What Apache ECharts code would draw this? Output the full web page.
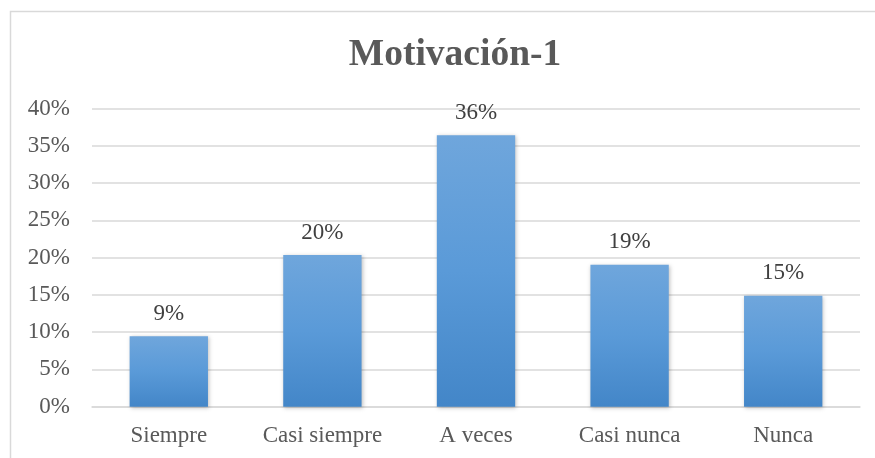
<!DOCTYPE html>
<html>
<head>
<meta charset="utf-8">
<script src="https://cdn.jsdelivr.net/npm/echarts@6/dist/echarts.min.js"></script>
<style>html,body{margin:0;padding:0;background:#fff}#c{width:875px;height:458px}</style>
</head>
<body>
<div id="c"></div>
<script>
const categories = ['Siempre', 'Casi siempre', 'A veces', 'Casi nunca', 'Nunca'];
const values = [9.45, 20.35, 36.45, 19.05, 14.9];
const yTicks = [0, 5, 10, 15, 20, 25, 30, 35, 40];
const titleText = 'Motivación-1';

const font = '"Liberation Serif", "Times New Roman", serif';
const chart = echarts.init(document.getElementById('c'));
chart.setOption({
  backgroundColor: '#fff',
  title: {
    text: titleText, left: 450, top: 31, textAlign: 'center',
    textStyle: { fontFamily: font, fontSize: 37.5, fontWeight: 'bold', color: '#595959' }
  },
  graphic: [
    { type: 'rect', shape: { x: 10.5, y: 11.5, width: 2000, height: 2000 }, style: { fill: 'none', stroke: '#d9d9d9', lineWidth: 1.5 }, silent: true }
  ],
  grid: { left: 92, right: 15, top: 108.7, bottom: 51.3 },
  xAxis: {
    type: 'category', data: categories,
    axisLine: { lineStyle: { color: '#d9d9d9', width: 1.5 } },
    axisTick: { show: false },
    axisLabel: { interval: 0, hideOverlap: false, fontFamily: font, fontSize: 23, color: '#595959', margin: 18 }
  },
  yAxis: {
    type: 'value', min: yTicks[0], max: yTicks[yTicks.length - 1], interval: 5,
    axisLine: { show: false }, axisTick: { show: false },
    splitLine: { lineStyle: { color: '#d9d9d9', width: 1.5 } },
    axisLabel: { fontFamily: font, fontSize: 23, color: '#595959', margin: 22, formatter: v => v + '%' }
  },
  series: [{
    type: 'bar', data: values, barWidth: '51%',
    itemStyle: {
      color: new echarts.graphic.LinearGradient(0, 0, 0, 1, [
        { offset: 0, color: '#6fa6dc' },
        { offset: 0.5, color: '#5a9ad8' },
        { offset: 1, color: '#4386c8' }
      ]),
      shadowColor: 'rgba(0,0,0,0.25)', shadowBlur: 4, shadowOffsetX: 1, shadowOffsetY: 1
    },
    label: {
      show: true, position: 'top', distance: 11,
      fontFamily: font, fontSize: 23, color: '#404040',
      formatter: p => Math.round(p.value) + '%'
    }
  }]
});
</script>
</body>
</html>
